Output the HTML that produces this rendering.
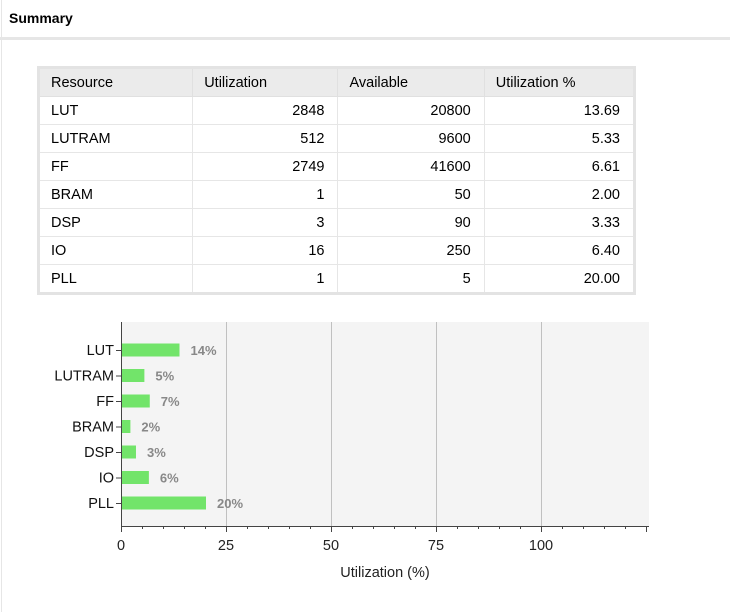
<!DOCTYPE html>
<html><head><meta charset="utf-8"><style>
body{margin:0;width:730px;height:612px;background:#fff;font-family:"Liberation Sans",Arial,sans-serif;position:relative;overflow:hidden}
.title{position:absolute;left:9px;top:10px;font-weight:bold;font-size:14px;color:#000}
.sep{position:absolute;left:0;top:37px;width:730px;height:3px;background:#e6e6e6}
.lb{position:absolute;left:1px;top:0;width:1px;height:612px;background:#e6e6e6}
table{position:absolute;left:37px;top:66px;border:3px solid #e3e3e3;border-collapse:collapse;font-size:14.5px;color:#000;width:599px}
td,th{height:27px;padding:0 13px 0 11px;border:1px solid #e6e6e6;font-weight:normal;text-align:right}
th{background:#ebebeb;text-align:left;border-color:#e0e0e0}
td:first-child{text-align:left}
</style></head><body>
<div class="lb"></div>
<div class="title">Summary</div>
<div class="sep"></div>
<table>
<colgroup><col style="width:155px"><col style="width:146px"><col style="width:147px"><col style="width:151px"></colgroup>
<tr><th>Resource</th><th>Utilization</th><th>Available</th><th>Utilization %</th></tr>
<tr><td>LUT</td><td>2848</td><td>20800</td><td>13.69</td></tr>
<tr><td>LUTRAM</td><td>512</td><td>9600</td><td>5.33</td></tr>
<tr><td>FF</td><td>2749</td><td>41600</td><td>6.61</td></tr>
<tr><td>BRAM</td><td>1</td><td>50</td><td>2.00</td></tr>
<tr><td>DSP</td><td>3</td><td>90</td><td>3.33</td></tr>
<tr><td>IO</td><td>16</td><td>250</td><td>6.40</td></tr>
<tr><td>PLL</td><td>1</td><td>5</td><td>20.00</td></tr>
</table>
<svg id="chart" width="730" height="612" style="position:absolute;left:0;top:0"></svg>
<script>
const categories=["LUT","LUTRAM","FF","BRAM","DSP","IO","PLL"];
const values=[13.69,5.33,6.61,2.00,3.33,6.40,20.00];
const labels=["14%","5%","7%","2%","3%","6%","20%"];
const xTicks=[0,25,50,75,100];
const NS="http://www.w3.org/2000/svg";
const svg=document.getElementById("chart");
const L=121,R=649,T=322,B=526,PX=4.2;
const x=v=>L+v*PX;
const y=i=>T+28+i*25.5;
function mk(t,a,txt){const e=document.createElementNS(NS,t);for(const k in a)e.setAttribute(k,a[k]);if(txt!==undefined)e.textContent=txt;svg.appendChild(e);return e;}
let e=mk("rect",{x:L,y:T,width:R-L,height:B-T,fill:"#f4f4f4"});


xTicks.forEach(t=>{if(t>0){const gx=Math.round(x(t))+0.5;const g=mk("line",{x1:gx,x2:gx,y1:T,y2:B,stroke:"#c0c0c0"});

}
const tl=mk("text",{x:x(t),y:B+24,"text-anchor":"middle","font-size":"14.5",fill:"#222"},String(t));

});
for(let v=0;v<=125;v+=5){const tx=Math.round(x(v))+0.5;mk("line",{x1:tx,x2:tx,y1:B,y2:B+(v%25==0?6:3),stroke:"#444"});}
mk("line",{x1:L+0.5,x2:L+0.5,y1:T,y2:B,stroke:"#444"});
mk("line",{x1:L,x2:R,y1:B+0.5,y2:B+0.5,stroke:"#444"});
categories.forEach((c,i)=>{
const b=mk("rect",{x:L+1,y:y(i)-6.5,width:values[i]*PX,height:13,fill:"#72e46a"});


mk("line",{x1:L-5,x2:L,y1:y(i)+0.5,y2:y(i)+0.5,stroke:"#444"});
const cl=mk("text",{x:L-7,y:y(i)+5,"text-anchor":"end","font-size":"14.5",fill:"#111"},c);


const vl=mk("text",{x:x(values[i])+12,y:y(i)+5,"font-size":"13","font-weight":"bold",fill:"#888"},labels[i]);


});
const xt=mk("text",{x:385,y:577,"text-anchor":"middle","font-size":"14.5",fill:"#222"},"Utilization (%)");


</script>
</body></html>
